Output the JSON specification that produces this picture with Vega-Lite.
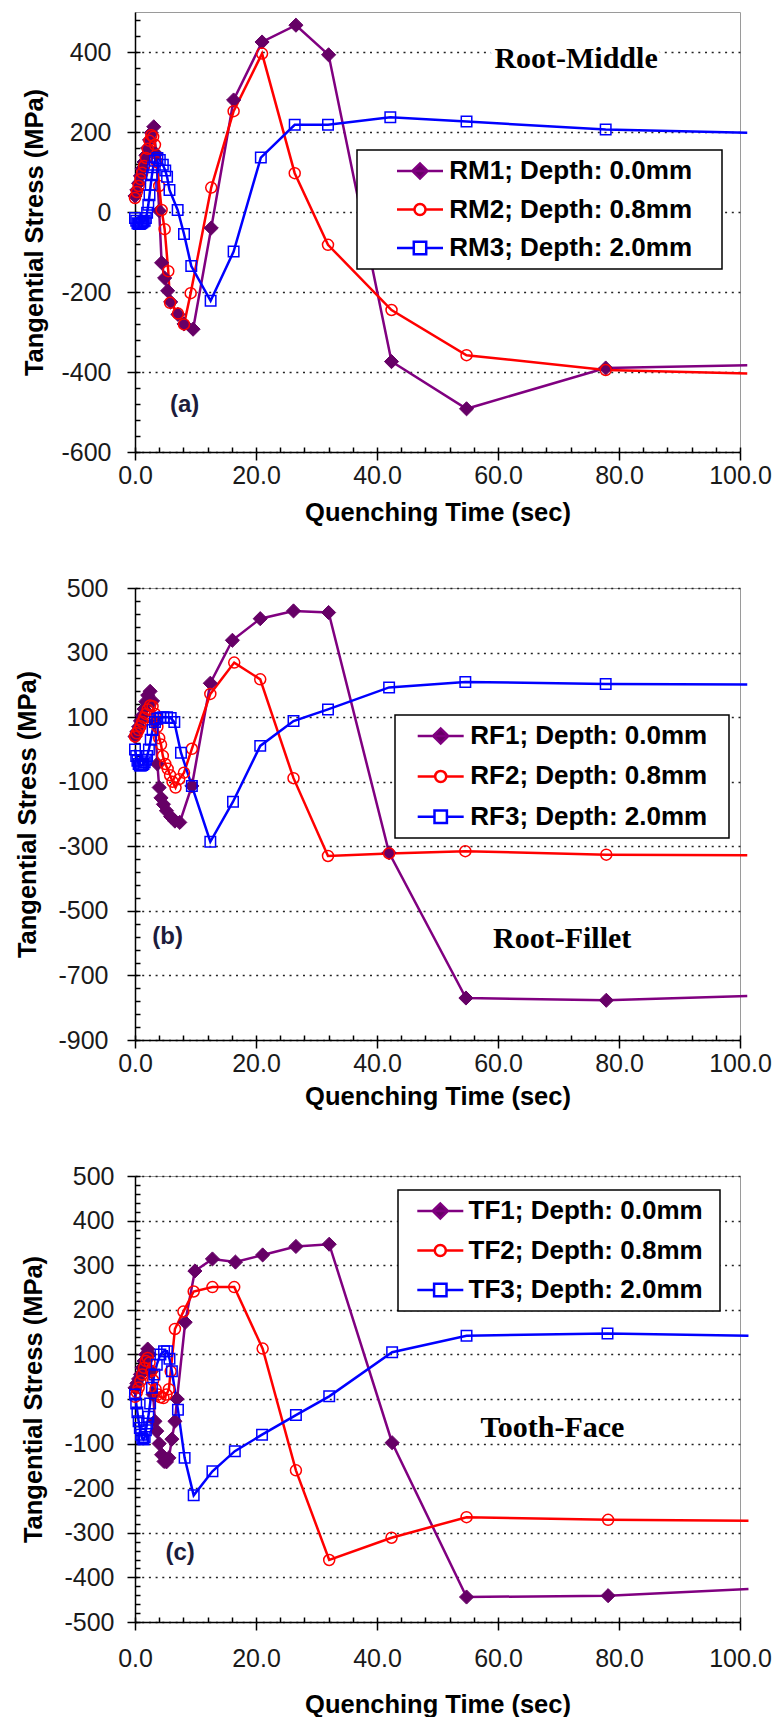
{
  "$schema": "https://vega.github.io/schema/vega-lite/v6.json",
  "background": "white",
  "padding": {"left": 14, "top": 11, "right": 2, "bottom": 2},
  "bounds": "flush",
  "spacing": 136,
  "resolve": {
    "scale": {"color": "independent", "shape": "independent", "fill": "independent", "stroke": "independent"},
    "legend": {"color": "independent", "shape": "independent", "fill": "independent", "stroke": "independent"}
  },
  "config": {
    "view": {"stroke": "#9a9a9a", "strokeWidth": 1},
    "axis": {
      "domainColor": "#000", "domainWidth": 1.5, "tickColor": "#000", "tickWidth": 1.5,
      "labelFont": "Liberation Sans", "labelFontSize": 25, "labelColor": "#1a1a1a",
      "titleFont": "Liberation Sans", "titleFontSize": 25.5, "titleFontWeight": "bold", "titleColor": "#000",
      "gridColor": "#222", "gridDash": [2, 4.7], "gridWidth": 1.3,
      "labelFlush": false, "labelOverlap": false
    },
    "legend": {
      "labelFont": "Liberation Sans", "labelFontSize": 26, "labelFontWeight": "bold", "labelColor": "#000",
      "strokeColor": "#000", "strokeWidth": 1.5, "fillColor": "#fff", "padding": 8, "symbolSize": 2116, "symbolStrokeWidth": 2.5,
      "clipHeight": 26, "orient": "none", "symbolOpacity": 1, "labelLimit": 500,
      "titleOrient": "right", "titleFontSize": 2, "titleColor": "rgba(0,0,0,0)"
    }
  },
  "datasets": {
    "a": [
      {"s":"RM1; Depth: 0.0mm","t":0,"v":40},{"s":"RM1; Depth: 0.0mm","t":0.3,"v":55},{"s":"RM1; Depth: 0.0mm","t":0.6,"v":72},{"s":"RM1; Depth: 0.0mm","t":0.9,"v":90},{"s":"RM1; Depth: 0.0mm","t":1.2,"v":108},{"s":"RM1; Depth: 0.0mm","t":1.5,"v":125},{"s":"RM1; Depth: 0.0mm","t":1.8,"v":142},{"s":"RM1; Depth: 0.0mm","t":2.1,"v":160},{"s":"RM1; Depth: 0.0mm","t":2.4,"v":180},{"s":"RM1; Depth: 0.0mm","t":2.7,"v":198},{"s":"RM1; Depth: 0.0mm","t":3.1,"v":213},{"s":"RM1; Depth: 0.0mm","t":3.5,"v":145},{"s":"RM1; Depth: 0.0mm","t":4.0,"v":3},{"s":"RM1; Depth: 0.0mm","t":4.4,"v":-127},{"s":"RM1; Depth: 0.0mm","t":4.9,"v":-165},{"s":"RM1; Depth: 0.0mm","t":5.4,"v":-197},{"s":"RM1; Depth: 0.0mm","t":5.9,"v":-225},{"s":"RM1; Depth: 0.0mm","t":7.1,"v":-256},{"s":"RM1; Depth: 0.0mm","t":8.1,"v":-280},{"s":"RM1; Depth: 0.0mm","t":9.6,"v":-293},{"s":"RM1; Depth: 0.0mm","t":12.6,"v":-40},{"s":"RM1; Depth: 0.0mm","t":16.3,"v":280},{"s":"RM1; Depth: 0.0mm","t":21.0,"v":425},{"s":"RM1; Depth: 0.0mm","t":26.6,"v":467},{"s":"RM1; Depth: 0.0mm","t":32.0,"v":393},{"s":"RM1; Depth: 0.0mm","t":42.4,"v":-374},{"s":"RM1; Depth: 0.0mm","t":54.8,"v":-492},{"s":"RM1; Depth: 0.0mm","t":77.8,"v":-390},{"s":"RM1; Depth: 0.0mm","t":101.2,"v":-383},
      {"s":"RM2; Depth: 0.8mm","t":0,"v":35},{"s":"RM2; Depth: 0.8mm","t":0.3,"v":50},{"s":"RM2; Depth: 0.8mm","t":0.6,"v":65},{"s":"RM2; Depth: 0.8mm","t":0.9,"v":82},{"s":"RM2; Depth: 0.8mm","t":1.2,"v":98},{"s":"RM2; Depth: 0.8mm","t":1.5,"v":115},{"s":"RM2; Depth: 0.8mm","t":1.8,"v":135},{"s":"RM2; Depth: 0.8mm","t":2.1,"v":158},{"s":"RM2; Depth: 0.8mm","t":2.4,"v":178},{"s":"RM2; Depth: 0.8mm","t":2.7,"v":192},{"s":"RM2; Depth: 0.8mm","t":3.0,"v":188},{"s":"RM2; Depth: 0.8mm","t":3.3,"v":168},{"s":"RM2; Depth: 0.8mm","t":3.6,"v":125},{"s":"RM2; Depth: 0.8mm","t":4.0,"v":65},{"s":"RM2; Depth: 0.8mm","t":4.4,"v":5},{"s":"RM2; Depth: 0.8mm","t":4.9,"v":-43},{"s":"RM2; Depth: 0.8mm","t":5.5,"v":-148},{"s":"RM2; Depth: 0.8mm","t":5.8,"v":-227},{"s":"RM2; Depth: 0.8mm","t":7.1,"v":-254},{"s":"RM2; Depth: 0.8mm","t":8.1,"v":-281},{"s":"RM2; Depth: 0.8mm","t":9.2,"v":-203},{"s":"RM2; Depth: 0.8mm","t":12.6,"v":61},{"s":"RM2; Depth: 0.8mm","t":16.3,"v":252},{"s":"RM2; Depth: 0.8mm","t":21.0,"v":396},{"s":"RM2; Depth: 0.8mm","t":26.4,"v":97},{"s":"RM2; Depth: 0.8mm","t":31.9,"v":-82},{"s":"RM2; Depth: 0.8mm","t":42.4,"v":-245},{"s":"RM2; Depth: 0.8mm","t":54.8,"v":-358},{"s":"RM2; Depth: 0.8mm","t":77.8,"v":-395},{"s":"RM2; Depth: 0.8mm","t":101.2,"v":-404},
      {"s":"RM3; Depth: 2.0mm","t":0,"v":-15},{"s":"RM3; Depth: 2.0mm","t":0.2,"v":-22},{"s":"RM3; Depth: 2.0mm","t":0.4,"v":-28},{"s":"RM3; Depth: 2.0mm","t":0.6,"v":-30},{"s":"RM3; Depth: 2.0mm","t":0.8,"v":-30},{"s":"RM3; Depth: 2.0mm","t":1.0,"v":-28},{"s":"RM3; Depth: 2.0mm","t":1.2,"v":-26},{"s":"RM3; Depth: 2.0mm","t":1.4,"v":-24},{"s":"RM3; Depth: 2.0mm","t":1.6,"v":-22},{"s":"RM3; Depth: 2.0mm","t":1.8,"v":-15},{"s":"RM3; Depth: 2.0mm","t":2.0,"v":-2},{"s":"RM3; Depth: 2.0mm","t":2.2,"v":18},{"s":"RM3; Depth: 2.0mm","t":2.4,"v":42},{"s":"RM3; Depth: 2.0mm","t":2.6,"v":68},{"s":"RM3; Depth: 2.0mm","t":2.8,"v":92},{"s":"RM3; Depth: 2.0mm","t":3.0,"v":112},{"s":"RM3; Depth: 2.0mm","t":3.3,"v":128},{"s":"RM3; Depth: 2.0mm","t":3.7,"v":135},{"s":"RM3; Depth: 2.0mm","t":4.1,"v":130},{"s":"RM3; Depth: 2.0mm","t":4.6,"v":118},{"s":"RM3; Depth: 2.0mm","t":5.0,"v":104},{"s":"RM3; Depth: 2.0mm","t":5.3,"v":88},{"s":"RM3; Depth: 2.0mm","t":5.7,"v":55},{"s":"RM3; Depth: 2.0mm","t":7.05,"v":5},{"s":"RM3; Depth: 2.0mm","t":8.1,"v":-55},{"s":"RM3; Depth: 2.0mm","t":9.3,"v":-135},{"s":"RM3; Depth: 2.0mm","t":12.5,"v":-222},{"s":"RM3; Depth: 2.0mm","t":16.3,"v":-99},{"s":"RM3; Depth: 2.0mm","t":20.8,"v":136},{"s":"RM3; Depth: 2.0mm","t":26.4,"v":218},{"s":"RM3; Depth: 2.0mm","t":31.9,"v":218},{"s":"RM3; Depth: 2.0mm","t":42.2,"v":237},{"s":"RM3; Depth: 2.0mm","t":54.8,"v":226},{"s":"RM3; Depth: 2.0mm","t":77.8,"v":206},{"s":"RM3; Depth: 2.0mm","t":101.2,"v":198}
    ],
    "b": [
      {"s":"RF1; Depth: 0.0mm","t":0,"v":40},{"s":"RF1; Depth: 0.0mm","t":0.3,"v":55},{"s":"RF1; Depth: 0.0mm","t":0.6,"v":70},{"s":"RF1; Depth: 0.0mm","t":0.9,"v":88},{"s":"RF1; Depth: 0.0mm","t":1.2,"v":105},{"s":"RF1; Depth: 0.0mm","t":1.5,"v":125},{"s":"RF1; Depth: 0.0mm","t":1.8,"v":148},{"s":"RF1; Depth: 0.0mm","t":2.1,"v":168},{"s":"RF1; Depth: 0.0mm","t":2.5,"v":180},{"s":"RF1; Depth: 0.0mm","t":2.9,"v":150},{"s":"RF1; Depth: 0.0mm","t":3.3,"v":85},{"s":"RF1; Depth: 0.0mm","t":3.7,"v":-45},{"s":"RF1; Depth: 0.0mm","t":4.0,"v":-118},{"s":"RF1; Depth: 0.0mm","t":4.3,"v":-150},{"s":"RF1; Depth: 0.0mm","t":4.7,"v":-170},{"s":"RF1; Depth: 0.0mm","t":5.2,"v":-190},{"s":"RF1; Depth: 0.0mm","t":5.9,"v":-208},{"s":"RF1; Depth: 0.0mm","t":6.6,"v":-222},{"s":"RF1; Depth: 0.0mm","t":7.4,"v":-226},{"s":"RF1; Depth: 0.0mm","t":9.4,"v":-113},{"s":"RF1; Depth: 0.0mm","t":12.45,"v":205},{"s":"RF1; Depth: 0.0mm","t":16.1,"v":338},{"s":"RF1; Depth: 0.0mm","t":20.7,"v":405},{"s":"RF1; Depth: 0.0mm","t":26.2,"v":429},{"s":"RF1; Depth: 0.0mm","t":32.0,"v":424},{"s":"RF1; Depth: 0.0mm","t":42.0,"v":-320},{"s":"RF1; Depth: 0.0mm","t":54.7,"v":-770},{"s":"RF1; Depth: 0.0mm","t":77.9,"v":-777},{"s":"RF1; Depth: 0.0mm","t":101.2,"v":-764},
      {"s":"RF2; Depth: 0.8mm","t":0,"v":40},{"s":"RF2; Depth: 0.8mm","t":0.3,"v":50},{"s":"RF2; Depth: 0.8mm","t":0.6,"v":60},{"s":"RF2; Depth: 0.8mm","t":0.9,"v":72},{"s":"RF2; Depth: 0.8mm","t":1.2,"v":85},{"s":"RF2; Depth: 0.8mm","t":1.5,"v":98},{"s":"RF2; Depth: 0.8mm","t":1.8,"v":110},{"s":"RF2; Depth: 0.8mm","t":2.1,"v":124},{"s":"RF2; Depth: 0.8mm","t":2.5,"v":136},{"s":"RF2; Depth: 0.8mm","t":2.9,"v":134},{"s":"RF2; Depth: 0.8mm","t":3.3,"v":110},{"s":"RF2; Depth: 0.8mm","t":3.7,"v":70},{"s":"RF2; Depth: 0.8mm","t":4.0,"v":35},{"s":"RF2; Depth: 0.8mm","t":4.3,"v":15},{"s":"RF2; Depth: 0.8mm","t":4.6,"v":-20},{"s":"RF2; Depth: 0.8mm","t":5.0,"v":-45},{"s":"RF2; Depth: 0.8mm","t":5.4,"v":-60},{"s":"RF2; Depth: 0.8mm","t":5.8,"v":-80},{"s":"RF2; Depth: 0.8mm","t":6.2,"v":-100},{"s":"RF2; Depth: 0.8mm","t":6.7,"v":-118},{"s":"RF2; Depth: 0.8mm","t":7.3,"v":-92},{"s":"RF2; Depth: 0.8mm","t":8.1,"v":-72},{"s":"RF2; Depth: 0.8mm","t":9.4,"v":2},{"s":"RF2; Depth: 0.8mm","t":12.45,"v":172},{"s":"RF2; Depth: 0.8mm","t":16.4,"v":269},{"s":"RF2; Depth: 0.8mm","t":20.7,"v":217},{"s":"RF2; Depth: 0.8mm","t":26.2,"v":-89},{"s":"RF2; Depth: 0.8mm","t":31.9,"v":-330},{"s":"RF2; Depth: 0.8mm","t":42.0,"v":-322},{"s":"RF2; Depth: 0.8mm","t":54.6,"v":-315},{"s":"RF2; Depth: 0.8mm","t":77.9,"v":-326},{"s":"RF2; Depth: 0.8mm","t":101.2,"v":-328},
      {"s":"RF3; Depth: 2.0mm","t":0,"v":0},{"s":"RF3; Depth: 2.0mm","t":0.2,"v":-20},{"s":"RF3; Depth: 2.0mm","t":0.4,"v":-35},{"s":"RF3; Depth: 2.0mm","t":0.6,"v":-45},{"s":"RF3; Depth: 2.0mm","t":0.8,"v":-50},{"s":"RF3; Depth: 2.0mm","t":1.0,"v":-50},{"s":"RF3; Depth: 2.0mm","t":1.2,"v":-48},{"s":"RF3; Depth: 2.0mm","t":1.4,"v":-45},{"s":"RF3; Depth: 2.0mm","t":1.6,"v":-40},{"s":"RF3; Depth: 2.0mm","t":1.8,"v":-32},{"s":"RF3; Depth: 2.0mm","t":2.0,"v":-20},{"s":"RF3; Depth: 2.0mm","t":2.3,"v":0},{"s":"RF3; Depth: 2.0mm","t":2.6,"v":30},{"s":"RF3; Depth: 2.0mm","t":2.9,"v":60},{"s":"RF3; Depth: 2.0mm","t":3.3,"v":85},{"s":"RF3; Depth: 2.0mm","t":3.7,"v":95},{"s":"RF3; Depth: 2.0mm","t":4.2,"v":98},{"s":"RF3; Depth: 2.0mm","t":4.7,"v":100},{"s":"RF3; Depth: 2.0mm","t":5.3,"v":100},{"s":"RF3; Depth: 2.0mm","t":5.9,"v":97},{"s":"RF3; Depth: 2.0mm","t":6.5,"v":85},{"s":"RF3; Depth: 2.0mm","t":7.6,"v":-10},{"s":"RF3; Depth: 2.0mm","t":9.4,"v":-113},{"s":"RF3; Depth: 2.0mm","t":12.45,"v":-286},{"s":"RF3; Depth: 2.0mm","t":16.2,"v":-162},{"s":"RF3; Depth: 2.0mm","t":20.7,"v":11},{"s":"RF3; Depth: 2.0mm","t":26.2,"v":88},{"s":"RF3; Depth: 2.0mm","t":31.9,"v":124},{"s":"RF3; Depth: 2.0mm","t":42.0,"v":192},{"s":"RF3; Depth: 2.0mm","t":54.6,"v":209},{"s":"RF3; Depth: 2.0mm","t":77.8,"v":203},{"s":"RF3; Depth: 2.0mm","t":101.2,"v":201}
    ],
    "c": [
      {"s":"TF1; Depth: 0.0mm","t":0,"v":25},{"s":"TF1; Depth: 0.0mm","t":0.3,"v":35},{"s":"TF1; Depth: 0.0mm","t":0.6,"v":45},{"s":"TF1; Depth: 0.0mm","t":0.9,"v":55},{"s":"TF1; Depth: 0.0mm","t":1.2,"v":70},{"s":"TF1; Depth: 0.0mm","t":1.5,"v":85},{"s":"TF1; Depth: 0.0mm","t":1.8,"v":100},{"s":"TF1; Depth: 0.0mm","t":2.1,"v":112},{"s":"TF1; Depth: 0.0mm","t":2.4,"v":100},{"s":"TF1; Depth: 0.0mm","t":2.7,"v":62},{"s":"TF1; Depth: 0.0mm","t":3.0,"v":10},{"s":"TF1; Depth: 0.0mm","t":3.3,"v":-50},{"s":"TF1; Depth: 0.0mm","t":3.6,"v":-72},{"s":"TF1; Depth: 0.0mm","t":4.0,"v":-100},{"s":"TF1; Depth: 0.0mm","t":4.4,"v":-125},{"s":"TF1; Depth: 0.0mm","t":4.8,"v":-140},{"s":"TF1; Depth: 0.0mm","t":5.2,"v":-141},{"s":"TF1; Depth: 0.0mm","t":5.6,"v":-132},{"s":"TF1; Depth: 0.0mm","t":6.1,"v":-90},{"s":"TF1; Depth: 0.0mm","t":6.6,"v":-50},{"s":"TF1; Depth: 0.0mm","t":6.95,"v":0},{"s":"TF1; Depth: 0.0mm","t":8.3,"v":172},{"s":"TF1; Depth: 0.0mm","t":9.9,"v":287},{"s":"TF1; Depth: 0.0mm","t":12.8,"v":314},{"s":"TF1; Depth: 0.0mm","t":16.6,"v":307},{"s":"TF1; Depth: 0.0mm","t":21.1,"v":323},{"s":"TF1; Depth: 0.0mm","t":26.6,"v":342},{"s":"TF1; Depth: 0.0mm","t":32.1,"v":347},{"s":"TF1; Depth: 0.0mm","t":42.5,"v":-98},{"s":"TF1; Depth: 0.0mm","t":54.8,"v":-444},{"s":"TF1; Depth: 0.0mm","t":78.2,"v":-441},{"s":"TF1; Depth: 0.0mm","t":101.4,"v":-426},
      {"s":"TF2; Depth: 0.8mm","t":0,"v":5},{"s":"TF2; Depth: 0.8mm","t":0.3,"v":15},{"s":"TF2; Depth: 0.8mm","t":0.6,"v":25},{"s":"TF2; Depth: 0.8mm","t":0.9,"v":40},{"s":"TF2; Depth: 0.8mm","t":1.2,"v":55},{"s":"TF2; Depth: 0.8mm","t":1.5,"v":70},{"s":"TF2; Depth: 0.8mm","t":1.8,"v":85},{"s":"TF2; Depth: 0.8mm","t":2.1,"v":92},{"s":"TF2; Depth: 0.8mm","t":2.4,"v":82},{"s":"TF2; Depth: 0.8mm","t":2.7,"v":62},{"s":"TF2; Depth: 0.8mm","t":3.0,"v":42},{"s":"TF2; Depth: 0.8mm","t":3.4,"v":22},{"s":"TF2; Depth: 0.8mm","t":3.8,"v":10},{"s":"TF2; Depth: 0.8mm","t":4.2,"v":4},{"s":"TF2; Depth: 0.8mm","t":4.7,"v":2},{"s":"TF2; Depth: 0.8mm","t":5.2,"v":10},{"s":"TF2; Depth: 0.8mm","t":5.6,"v":22},{"s":"TF2; Depth: 0.8mm","t":5.9,"v":62},{"s":"TF2; Depth: 0.8mm","t":6.6,"v":157},{"s":"TF2; Depth: 0.8mm","t":8.0,"v":196},{"s":"TF2; Depth: 0.8mm","t":9.7,"v":241},{"s":"TF2; Depth: 0.8mm","t":12.8,"v":251},{"s":"TF2; Depth: 0.8mm","t":16.4,"v":251},{"s":"TF2; Depth: 0.8mm","t":21.1,"v":113},{"s":"TF2; Depth: 0.8mm","t":26.6,"v":-160},{"s":"TF2; Depth: 0.8mm","t":32.1,"v":-361},{"s":"TF2; Depth: 0.8mm","t":42.4,"v":-311},{"s":"TF2; Depth: 0.8mm","t":54.8,"v":-265},{"s":"TF2; Depth: 0.8mm","t":78.2,"v":-271},{"s":"TF2; Depth: 0.8mm","t":101.4,"v":-273},
      {"s":"TF3; Depth: 2.0mm","t":0,"v":10},{"s":"TF3; Depth: 2.0mm","t":0.2,"v":-10},{"s":"TF3; Depth: 2.0mm","t":0.4,"v":-30},{"s":"TF3; Depth: 2.0mm","t":0.6,"v":-50},{"s":"TF3; Depth: 2.0mm","t":0.8,"v":-65},{"s":"TF3; Depth: 2.0mm","t":1.0,"v":-80},{"s":"TF3; Depth: 2.0mm","t":1.2,"v":-88},{"s":"TF3; Depth: 2.0mm","t":1.4,"v":-91},{"s":"TF3; Depth: 2.0mm","t":1.6,"v":-85},{"s":"TF3; Depth: 2.0mm","t":1.8,"v":-70},{"s":"TF3; Depth: 2.0mm","t":2.0,"v":-55},{"s":"TF3; Depth: 2.0mm","t":2.2,"v":-40},{"s":"TF3; Depth: 2.0mm","t":2.5,"v":-10},{"s":"TF3; Depth: 2.0mm","t":2.8,"v":25},{"s":"TF3; Depth: 2.0mm","t":3.2,"v":55},{"s":"TF3; Depth: 2.0mm","t":3.6,"v":77},{"s":"TF3; Depth: 2.0mm","t":4.2,"v":100},{"s":"TF3; Depth: 2.0mm","t":4.8,"v":107},{"s":"TF3; Depth: 2.0mm","t":5.3,"v":107},{"s":"TF3; Depth: 2.0mm","t":5.7,"v":90},{"s":"TF3; Depth: 2.0mm","t":6.1,"v":62},{"s":"TF3; Depth: 2.0mm","t":7.1,"v":-24},{"s":"TF3; Depth: 2.0mm","t":8.2,"v":-132},{"s":"TF3; Depth: 2.0mm","t":9.7,"v":-216},{"s":"TF3; Depth: 2.0mm","t":12.8,"v":-162},{"s":"TF3; Depth: 2.0mm","t":16.5,"v":-117},{"s":"TF3; Depth: 2.0mm","t":21.0,"v":-80},{"s":"TF3; Depth: 2.0mm","t":26.6,"v":-36},{"s":"TF3; Depth: 2.0mm","t":32.1,"v":6},{"s":"TF3; Depth: 2.0mm","t":42.5,"v":105},{"s":"TF3; Depth: 2.0mm","t":54.8,"v":142},{"s":"TF3; Depth: 2.0mm","t":78.1,"v":147},{"s":"TF3; Depth: 2.0mm","t":101.4,"v":142}
    ],
    "notes": [
      {"p":"a","k":"site","t":72.9,"v":382,"label":"Root-Middle"},
      {"p":"a","k":"tag","t":8.2,"v":-482,"label":"(a)"},
      {"p":"b","k":"site","t":70.6,"v":-587,"label":"Root-Fillet"},
      {"p":"b","k":"tag","t":5.4,"v":-580,"label":"(b)"},
      {"p":"c","k":"site","t":69.0,"v":-65,"label":"Tooth-Face"},
      {"p":"c","k":"tag","t":7.45,"v":-345,"label":"(c)"}
    ]
  },
  "vconcat": [
    {
      "width": 605, "height": 440,
      "data": {"name": "a"},
      "resolve": {"axis": {"x": "independent", "y": "independent"}},
      "layer": [
        {
          "transform": [{"filter": "false"}],
          "mark": {"type": "point", "opacity": 1},
          "encoding": {
            "shape": {"field": "s", "type": "nominal", "scale": {"domain": ["RM1; Depth: 0.0mm","RM2; Depth: 0.8mm","RM3; Depth: 2.0mm"], "range": ["M-1,0H1M-0.33,0L0,-0.33L0.33,0L0,0.33Z","M-1,0H-0.24M0.24,0H1M-0.24,0A0.24,0.24,0,1,0,0.24,0A0.24,0.24,0,1,0,-0.24,0Z","M-1,0H-0.27M0.27,0H1M-0.27,-0.27H0.27V0.27H-0.27Z"]}, "legend": {"title": ".", "titlePadding": 21, "orient": "none", "legendX": 222, "legendY": 138, "symbolOffset": 30.5, "labelOffset": 4.8, "rowPadding": 12.5}},
            "fill": {"field": "s", "type": "nominal", "scale": {"domain": ["RM1; Depth: 0.0mm","RM2; Depth: 0.8mm","RM3; Depth: 2.0mm"], "range": ["#660066","transparent","transparent"]}, "legend": {"title": ".", "titlePadding": 21, "orient": "none", "legendX": 222, "legendY": 138, "symbolOffset": 30.5, "labelOffset": 4.8, "rowPadding": 12.5}},
            "stroke": {"field": "s", "type": "nominal", "scale": {"domain": ["RM1; Depth: 0.0mm","RM2; Depth: 0.8mm","RM3; Depth: 2.0mm"], "range": ["#800080","#ff0000","#0000ff"]}, "legend": {"title": ".", "titlePadding": 21, "orient": "none", "legendX": 222, "legendY": 138, "symbolOffset": 30.5, "labelOffset": 4.8, "rowPadding": 12.5}}
          }
        },
        {
          "mark": {"type": "line", "strokeWidth": 2.5},
          "encoding": {
            "x": {"field": "t", "type": "quantitative", "scale": {"domain": [0, 100], "nice": false, "zero": false},
                  "axis": {"orient": "bottom", "values": [0,20,40,60,80,100], "format": ".1f", "grid": false, "tickSize": 8, "labelPadding": 3, "title": "Quenching Time (sec)", "titlePadding": 12}},
            "y": {"field": "v", "type": "quantitative", "scale": {"domain": [-600, 500], "nice": false, "zero": false},
                  "axis": {"orient": "left", "values": [-600,-400,-200,0,200,400], "labelExpr": "toString(datum.value)", "grid": true, "tickSize": 8, "labelPadding": 16, "title": "Tangential Stress (MPa)", "titlePadding": 13}},
            "color": {"field": "s", "type": "nominal", "scale": {"domain": ["RM1; Depth: 0.0mm","RM2; Depth: 0.8mm","RM3; Depth: 2.0mm"], "range": ["#800080","#ff0000","#0000ff"]}, "legend": null}
          }
        },
        {
          "transform": [{"filter": "datum.s === 'RM1; Depth: 0.0mm' && datum.t <= 100"}],
          "mark": {"type": "point", "shape": "diamond", "filled": true, "fill": "#660066", "stroke": "#660066", "strokeWidth": 1, "size": 200, "opacity": 1},
          "encoding": {
            "x": {"field": "t", "type": "quantitative", "axis": {"orient": "bottom", "values": [0,4,8,12,16,20,24,28,32,36,40,44,48,52,56,60,64,68,72,76,80,84,88,92,96,100], "tickSize": -5, "labels": false, "domain": false, "grid": false, "title": null}},
            "y": {"field": "v", "type": "quantitative", "axis": {"orient": "left", "values": [-600,-560,-520,-480,-440,-400,-360,-320,-280,-240,-200,-160,-120,-80,-40,0,40,80,120,160,200,240,280,320,360,400,440,480], "tickSize": -5, "labels": false, "domain": false, "grid": false, "title": null}}
          }
        },
        {
          "transform": [{"filter": "datum.s === 'RM2; Depth: 0.8mm' && datum.t <= 100"}],
          "mark": {"type": "point", "shape": "circle", "filled": false, "fill": "transparent", "stroke": "#ff0000", "strokeWidth": 1.5, "size": 121, "opacity": 1},
          "encoding": {
            "x": {"field": "t", "type": "quantitative", "axis": null},
            "y": {"field": "v", "type": "quantitative", "axis": null}
          }
        },
        {
          "transform": [{"filter": "datum.s === 'RM3; Depth: 2.0mm' && datum.t <= 100"}],
          "mark": {"type": "point", "shape": "square", "filled": false, "fill": "transparent", "stroke": "#0000ff", "strokeWidth": 1.5, "size": 110, "opacity": 1},
          "encoding": {
            "x": {"field": "t", "type": "quantitative", "axis": null},
            "y": {"field": "v", "type": "quantitative", "axis": null}
          }
        },
        {
          "data": {"name": "notes"},
          "transform": [{"filter": "datum.p === 'a' && datum.k === 'site'"}],
          "mark": {"type": "text", "font": "Liberation Serif", "fontSize": 30, "fontWeight": "bold", "color": "#000", "stroke": "#fff", "strokeWidth": 10, "strokeJoin": "round"},
          "encoding": {"x": {"field": "t", "type": "quantitative", "axis": null}, "y": {"field": "v", "type": "quantitative", "axis": null}, "text": {"field": "label"}}
        },
        {
          "data": {"name": "notes"},
          "transform": [{"filter": "datum.p === 'a' && datum.k === 'site'"}],
          "mark": {"type": "text", "font": "Liberation Serif", "fontSize": 30, "fontWeight": "bold", "color": "#000"},
          "encoding": {"x": {"field": "t", "type": "quantitative", "axis": null}, "y": {"field": "v", "type": "quantitative", "axis": null}, "text": {"field": "label"}}
        },
        {
          "data": {"name": "notes"},
          "transform": [{"filter": "datum.p === 'a' && datum.k === 'tag'"}],
          "mark": {"type": "text", "font": "Liberation Sans", "fontSize": 24, "fontWeight": "bold", "color": "#1c1c3c"},
          "encoding": {"x": {"field": "t", "type": "quantitative", "axis": null}, "y": {"field": "v", "type": "quantitative", "axis": null}, "text": {"field": "label"}}
        }
      ]
    },
    {
      "width": 605, "height": 452,
      "data": {"name": "b"},
      "resolve": {"axis": {"x": "independent", "y": "independent"}},
      "layer": [
        {
          "transform": [{"filter": "false"}],
          "mark": {"type": "point", "opacity": 1},
          "encoding": {
            "shape": {"field": "s", "type": "nominal", "scale": {"domain": ["RF1; Depth: 0.0mm","RF2; Depth: 0.8mm","RF3; Depth: 2.0mm"], "range": ["M-1,0H1M-0.33,0L0,-0.33L0.33,0L0,0.33Z","M-1,0H-0.24M0.24,0H1M-0.24,0A0.24,0.24,0,1,0,0.24,0A0.24,0.24,0,1,0,-0.24,0Z","M-1,0H-0.27M0.27,0H1M-0.27,-0.27H0.27V0.27H-0.27Z"]}, "legend": {"title": ".", "titlePadding": 13, "orient": "none", "legendX": 260, "legendY": 127, "symbolOffset": 13.2, "labelOffset": 5.1, "rowPadding": 14.4}},
            "fill": {"field": "s", "type": "nominal", "scale": {"domain": ["RF1; Depth: 0.0mm","RF2; Depth: 0.8mm","RF3; Depth: 2.0mm"], "range": ["#660066","transparent","transparent"]}, "legend": {"title": ".", "titlePadding": 13, "orient": "none", "legendX": 260, "legendY": 127, "symbolOffset": 13.2, "labelOffset": 5.1, "rowPadding": 14.4}},
            "stroke": {"field": "s", "type": "nominal", "scale": {"domain": ["RF1; Depth: 0.0mm","RF2; Depth: 0.8mm","RF3; Depth: 2.0mm"], "range": ["#800080","#ff0000","#0000ff"]}, "legend": {"title": ".", "titlePadding": 13, "orient": "none", "legendX": 260, "legendY": 127, "symbolOffset": 13.2, "labelOffset": 5.1, "rowPadding": 14.4}}
          }
        },
        {
          "mark": {"type": "line", "strokeWidth": 2.5},
          "encoding": {
            "x": {"field": "t", "type": "quantitative", "scale": {"domain": [0, 100], "nice": false, "zero": false},
                  "axis": {"orient": "bottom", "values": [0,20,40,60,80,100], "format": ".1f", "grid": false, "tickSize": 8, "labelPadding": 3, "title": "Quenching Time (sec)", "titlePadding": 8.5}},
            "y": {"field": "v", "type": "quantitative", "scale": {"domain": [-900, 500], "nice": false, "zero": false},
                  "axis": {"orient": "left", "values": [-900,-700,-500,-300,-100,100,300,500], "labelExpr": "toString(datum.value)", "grid": true, "tickSize": 8, "labelPadding": 19, "title": "Tangential Stress (MPa)", "titlePadding": 17.5}},
            "color": {"field": "s", "type": "nominal", "scale": {"domain": ["RF1; Depth: 0.0mm","RF2; Depth: 0.8mm","RF3; Depth: 2.0mm"], "range": ["#800080","#ff0000","#0000ff"]}, "legend": null}
          }
        },
        {
          "transform": [{"filter": "datum.s === 'RF1; Depth: 0.0mm' && datum.t <= 100"}],
          "mark": {"type": "point", "shape": "diamond", "filled": true, "fill": "#660066", "stroke": "#660066", "strokeWidth": 1, "size": 200, "opacity": 1},
          "encoding": {
            "x": {"field": "t", "type": "quantitative", "axis": {"orient": "bottom", "values": [0,4,8,12,16,20,24,28,32,36,40,44,48,52,56,60,64,68,72,76,80,84,88,92,96,100], "tickSize": -5, "labels": false, "domain": false, "grid": false, "title": null}},
            "y": {"field": "v", "type": "quantitative", "axis": {"orient": "left", "values": [-900,-860,-820,-780,-740,-700,-660,-620,-580,-540,-500,-460,-420,-380,-340,-300,-260,-220,-180,-140,-100,-60,-20,20,60,100,140,180,220,260,300,340,380,420,460,500], "tickSize": -5, "labels": false, "domain": false, "grid": false, "title": null}}
          }
        },
        {
          "transform": [{"filter": "datum.s === 'RF2; Depth: 0.8mm' && datum.t <= 100"}],
          "mark": {"type": "point", "shape": "circle", "filled": false, "fill": "transparent", "stroke": "#ff0000", "strokeWidth": 1.5, "size": 121, "opacity": 1},
          "encoding": {
            "x": {"field": "t", "type": "quantitative", "axis": null},
            "y": {"field": "v", "type": "quantitative", "axis": null}
          }
        },
        {
          "transform": [{"filter": "datum.s === 'RF3; Depth: 2.0mm' && datum.t <= 100"}],
          "mark": {"type": "point", "shape": "square", "filled": false, "fill": "transparent", "stroke": "#0000ff", "strokeWidth": 1.5, "size": 110, "opacity": 1},
          "encoding": {
            "x": {"field": "t", "type": "quantitative", "axis": null},
            "y": {"field": "v", "type": "quantitative", "axis": null}
          }
        },
        {
          "data": {"name": "notes"},
          "transform": [{"filter": "datum.p === 'b' && datum.k === 'site'"}],
          "mark": {"type": "text", "font": "Liberation Serif", "fontSize": 30, "fontWeight": "bold", "color": "#000", "stroke": "#fff", "strokeWidth": 10, "strokeJoin": "round"},
          "encoding": {"x": {"field": "t", "type": "quantitative", "axis": null}, "y": {"field": "v", "type": "quantitative", "axis": null}, "text": {"field": "label"}}
        },
        {
          "data": {"name": "notes"},
          "transform": [{"filter": "datum.p === 'b' && datum.k === 'site'"}],
          "mark": {"type": "text", "font": "Liberation Serif", "fontSize": 30, "fontWeight": "bold", "color": "#000"},
          "encoding": {"x": {"field": "t", "type": "quantitative", "axis": null}, "y": {"field": "v", "type": "quantitative", "axis": null}, "text": {"field": "label"}}
        },
        {
          "data": {"name": "notes"},
          "transform": [{"filter": "datum.p === 'b' && datum.k === 'tag'"}],
          "mark": {"type": "text", "font": "Liberation Sans", "fontSize": 24, "fontWeight": "bold", "color": "#1c1c3c"},
          "encoding": {"x": {"field": "t", "type": "quantitative", "axis": null}, "y": {"field": "v", "type": "quantitative", "axis": null}, "text": {"field": "label"}}
        }
      ]
    },
    {
      "width": 605, "height": 446,
      "data": {"name": "c"},
      "resolve": {"axis": {"x": "independent", "y": "independent"}},
      "layer": [
        {
          "transform": [{"filter": "false"}],
          "mark": {"type": "point", "opacity": 1},
          "encoding": {
            "shape": {"field": "s", "type": "nominal", "scale": {"domain": ["TF1; Depth: 0.0mm","TF2; Depth: 0.8mm","TF3; Depth: 2.0mm"], "range": ["M-1,0H1M-0.33,0L0,-0.33L0.33,0L0,0.33Z","M-1,0H-0.24M0.24,0H1M-0.24,0A0.24,0.24,0,1,0,0.24,0A0.24,0.24,0,1,0,-0.24,0Z","M-1,0H-0.27M0.27,0H1M-0.27,-0.27H0.27V0.27H-0.27Z"]}, "legend": {"title": ".", "titlePadding": 8, "orient": "none", "legendX": 263, "legendY": 14, "symbolOffset": 9.8, "labelOffset": 3.8, "rowPadding": 13.5}},
            "fill": {"field": "s", "type": "nominal", "scale": {"domain": ["TF1; Depth: 0.0mm","TF2; Depth: 0.8mm","TF3; Depth: 2.0mm"], "range": ["#660066","transparent","transparent"]}, "legend": {"title": ".", "titlePadding": 8, "orient": "none", "legendX": 263, "legendY": 14, "symbolOffset": 9.8, "labelOffset": 3.8, "rowPadding": 13.5}},
            "stroke": {"field": "s", "type": "nominal", "scale": {"domain": ["TF1; Depth: 0.0mm","TF2; Depth: 0.8mm","TF3; Depth: 2.0mm"], "range": ["#800080","#ff0000","#0000ff"]}, "legend": {"title": ".", "titlePadding": 8, "orient": "none", "legendX": 263, "legendY": 14, "symbolOffset": 9.8, "labelOffset": 3.8, "rowPadding": 13.5}}
          }
        },
        {
          "mark": {"type": "line", "strokeWidth": 2.5},
          "encoding": {
            "x": {"field": "t", "type": "quantitative", "scale": {"domain": [0, 100], "nice": false, "zero": false},
                  "axis": {"orient": "bottom", "values": [0,20,40,60,80,100], "format": ".1f", "grid": false, "tickSize": 8, "labelPadding": 16, "title": "Quenching Time (sec)", "titlePadding": 21}},
            "y": {"field": "v", "type": "quantitative", "scale": {"domain": [-500, 500], "nice": false, "zero": false},
                  "axis": {"orient": "left", "values": [-500,-400,-300,-200,-100,0,100,200,300,400,500], "labelExpr": "toString(datum.value)", "grid": true, "tickSize": 8, "labelPadding": 13, "title": "Tangential Stress (MPa)", "titlePadding": 17}},
            "color": {"field": "s", "type": "nominal", "scale": {"domain": ["TF1; Depth: 0.0mm","TF2; Depth: 0.8mm","TF3; Depth: 2.0mm"], "range": ["#800080","#ff0000","#0000ff"]}, "legend": null}
          }
        },
        {
          "transform": [{"filter": "datum.s === 'TF1; Depth: 0.0mm' && datum.t <= 100"}],
          "mark": {"type": "point", "shape": "diamond", "filled": true, "fill": "#660066", "stroke": "#660066", "strokeWidth": 1, "size": 200, "opacity": 1},
          "encoding": {
            "x": {"field": "t", "type": "quantitative", "axis": {"orient": "bottom", "values": [0,4,8,12,16,20,24,28,32,36,40,44,48,52,56,60,64,68,72,76,80,84,88,92,96,100], "tickSize": -5, "labels": false, "domain": false, "grid": false, "title": null}},
            "y": {"field": "v", "type": "quantitative", "axis": {"orient": "left", "values": [-500,-480,-460,-440,-420,-400,-380,-360,-340,-320,-300,-280,-260,-240,-220,-200,-180,-160,-140,-120,-100,-80,-60,-40,-20,0,20,40,60,80,100,120,140,160,180,200,220,240,260,280,300,320,340,360,380,400,420,440,460,480,500], "tickSize": -5, "labels": false, "domain": false, "grid": false, "title": null}}
          }
        },
        {
          "transform": [{"filter": "datum.s === 'TF2; Depth: 0.8mm' && datum.t <= 100"}],
          "mark": {"type": "point", "shape": "circle", "filled": false, "fill": "transparent", "stroke": "#ff0000", "strokeWidth": 1.5, "size": 121, "opacity": 1},
          "encoding": {
            "x": {"field": "t", "type": "quantitative", "axis": null},
            "y": {"field": "v", "type": "quantitative", "axis": null}
          }
        },
        {
          "transform": [{"filter": "datum.s === 'TF3; Depth: 2.0mm' && datum.t <= 100"}],
          "mark": {"type": "point", "shape": "square", "filled": false, "fill": "transparent", "stroke": "#0000ff", "strokeWidth": 1.5, "size": 110, "opacity": 1},
          "encoding": {
            "x": {"field": "t", "type": "quantitative", "axis": null},
            "y": {"field": "v", "type": "quantitative", "axis": null}
          }
        },
        {
          "data": {"name": "notes"},
          "transform": [{"filter": "datum.p === 'c' && datum.k === 'site'"}],
          "mark": {"type": "text", "font": "Liberation Serif", "fontSize": 30, "fontWeight": "bold", "color": "#000", "stroke": "#fff", "strokeWidth": 10, "strokeJoin": "round"},
          "encoding": {"x": {"field": "t", "type": "quantitative", "axis": null}, "y": {"field": "v", "type": "quantitative", "axis": null}, "text": {"field": "label"}}
        },
        {
          "data": {"name": "notes"},
          "transform": [{"filter": "datum.p === 'c' && datum.k === 'site'"}],
          "mark": {"type": "text", "font": "Liberation Serif", "fontSize": 30, "fontWeight": "bold", "color": "#000"},
          "encoding": {"x": {"field": "t", "type": "quantitative", "axis": null}, "y": {"field": "v", "type": "quantitative", "axis": null}, "text": {"field": "label"}}
        },
        {
          "data": {"name": "notes"},
          "transform": [{"filter": "datum.p === 'c' && datum.k === 'tag'"}],
          "mark": {"type": "text", "font": "Liberation Sans", "fontSize": 24, "fontWeight": "bold", "color": "#1c1c3c"},
          "encoding": {"x": {"field": "t", "type": "quantitative", "axis": null}, "y": {"field": "v", "type": "quantitative", "axis": null}, "text": {"field": "label"}}
        }
      ]
    }
  ]
}
